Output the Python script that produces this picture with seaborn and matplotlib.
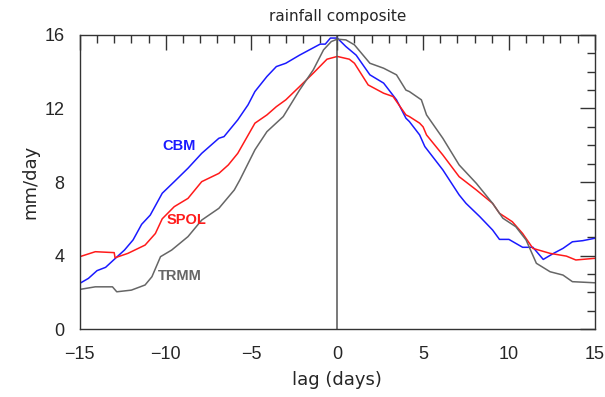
import matplotlib
matplotlib.use("Agg")
import matplotlib.pyplot as plt
import pandas as pd
import seaborn as sns
from matplotlib.ticker import MultipleLocator

# lag (days) and rainfall (mm/day)
cbm_lag = [-15, -14.5, -14.0, -13.5, -13.0, -12.4, -11.9, -11.4, -10.9, -10.2, -9.5, -8.7,
           -7.9, -6.9, -6.6, -5.8, -5.2, -4.8, -4.1, -3.55, -3.0, -2.2, -1.0, -0.7, -0.4,
           0.0, 0.5, 1.1, 1.9, 2.7, 3.45, 4.0, 4.2, 4.8, 5.1, 6.15, 7.1, 7.5, 8.3, 9.05,
           9.45, 10.0, 10.8, 11.4, 12.0, 12.6, 13.15, 13.7, 14.3, 15.0]
cbm_rain = [2.49, 2.76, 3.18, 3.36, 3.79, 4.3, 4.85, 5.7, 6.2, 7.39, 8.02, 8.75,
            9.56, 10.38, 10.47, 11.38, 12.2, 12.92, 13.74, 14.28, 14.46, 14.9, 15.5, 15.5, 15.83,
            15.83, 15.37, 14.9, 13.83, 13.38, 12.47, 11.47, 11.29, 10.56, 9.93, 8.66, 7.3, 6.84, 6.12, 5.39,
            4.88, 4.88, 4.45, 4.45, 3.79, 4.12, 4.39, 4.75, 4.81, 4.94]

spol_lag = [-15, -14.1, -13.0, -12.95, -12.2, -11.2, -10.6, -10.2, -9.5, -8.7, -7.9, -6.9,
            -6.35, -5.8, -4.8, -4.1, -3.55, -3.0, -2.2, -1.4, -0.6, 0.0, 0.7, 1.0, 1.8,
            2.7, 3.25, 4.0, 4.2, 4.8, 5.0, 5.2, 6.15, 7.1, 8.1, 9.05, 9.45, 10.2, 10.8,
            11.4, 12.4, 13.35, 13.9, 15.0]
spol_rain = [3.94, 4.21, 4.16, 3.88, 4.12, 4.57, 5.2, 6.0, 6.66, 7.11, 8.02, 8.47,
             8.93, 9.56, 11.2, 11.65, 12.1, 12.47, 13.19, 13.92, 14.68, 14.83, 14.68, 14.46, 13.28,
             12.83, 12.65, 11.65, 11.56, 11.2, 11.0, 10.56, 9.47, 8.29, 7.57, 6.84, 6.3, 5.84, 5.2,
             4.39, 4.12, 3.97, 3.76, 3.85]

trmm_lag = [-15, -14.1, -13.1, -12.85, -12.0, -11.2, -10.8, -10.3, -9.65, -8.7, -7.9, -6.9,
            -6.0, -5.68, -4.8, -4.1, -3.15, -2.2, -1.4, -0.8, -0.35, 0.0, 0.5, 1.0, 1.9,
            2.7, 3.45, 4.0, 4.2, 4.9, 5.2, 6.15, 7.1, 8.1, 9.05, 9.65, 10.4, 11.0, 11.6,
            12.4, 13.15, 13.7, 15.0]
trmm_rain = [2.16, 2.3, 2.3, 2.03, 2.12, 2.4, 2.85, 3.94, 4.3, 5.03, 5.93, 6.57,
             7.57, 8.11, 9.75, 10.74, 11.56, 13.0, 14.1, 15.19, 15.64, 15.77, 15.73, 15.46, 14.46,
             14.19, 13.83, 13.0, 12.92, 12.47, 11.65, 10.38, 8.93, 7.93, 6.84, 6.03, 5.57, 4.85, 3.58,
             3.12, 2.94, 2.58, 2.52]

colors = {"CBM": "#1a1aff", "SPOL": "#ff1a1a", "TRMM": "#666666"}
label_pos = {"CBM": (-9.23, 9.96), "SPOL": (-8.77, 5.93), "TRMM": (-9.17, 2.88)}

df = pd.concat([
    pd.DataFrame({"lag": cbm_lag, "rain": cbm_rain, "source": "CBM"}),
    pd.DataFrame({"lag": spol_lag, "rain": spol_rain, "source": "SPOL"}),
    pd.DataFrame({"lag": trmm_lag, "rain": trmm_rain, "source": "TRMM"}),
])

sns.set_style("white")
plt.rcParams["font.family"] = ["DejaVu Sans"]

fig = plt.figure(figsize=(6.05, 3.97), dpi=100)
ax = fig.add_axes([0.132, 0.171, 0.851, 0.741])

sns.lineplot(data=df, x="lag", y="rain", hue="source", palette=colors,
             estimator=None, sort=False, linewidth=1.1, legend=False, ax=ax)
ax.axvline(0, color="#555555", linewidth=1.1)

for name, (lx, ly) in label_pos.items():
    ax.text(lx, ly, name, color=colors[name], fontsize=10.5, fontweight="bold",
            family="Liberation Sans", ha="center", va="center")

ax.set_xlim(-15, 15)
ax.set_ylim(0, 16)
ax.xaxis.set_major_locator(MultipleLocator(5))
ax.xaxis.set_minor_locator(MultipleLocator(1))
ax.yaxis.set_major_locator(MultipleLocator(4))
ax.yaxis.set_minor_locator(MultipleLocator(1))
ax.tick_params(which="both", direction="in", top=True, right=True, color="#333333", width=1)
ax.tick_params(which="major", length=11, labelsize=13)
ax.tick_params(axis="x", which="major", pad=12)
ax.tick_params(axis="y", which="major", pad=11)
ax.tick_params(which="minor", length=6)
for lab in ax.get_xticklabels() + ax.get_yticklabels():
    lab.set_family("Liberation Sans")
for sp in ax.spines.values():
    sp.set_color("#333333")
    sp.set_linewidth(1)

ax.set_title("rainfall composite", fontsize=11, pad=10)
ax.set_xlabel("lag (days)", fontsize=13, labelpad=6)
ax.set_ylabel("mm/day", fontsize=13, labelpad=4)

fig.savefig("out.png", dpi=100)
